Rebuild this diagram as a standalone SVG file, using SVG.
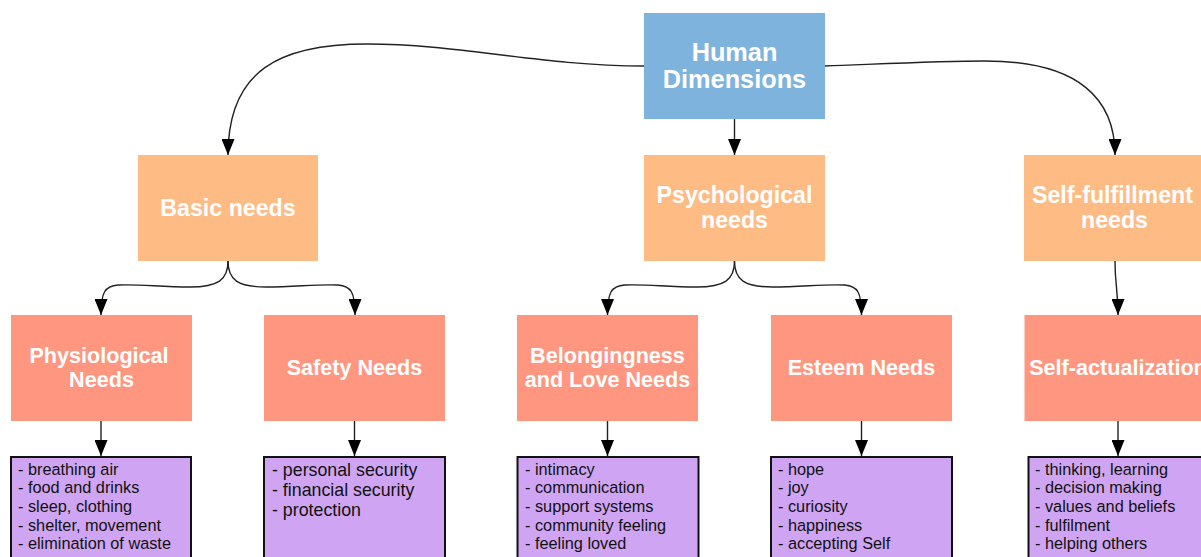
<svg xmlns="http://www.w3.org/2000/svg" width="1201" height="557" viewBox="0 0 1201 557">
<style>
.root{fill:#7eb3dd}
.l1{fill:#ffbb84}
.l2{fill:#ff9680}
.l3{fill:#cfa5f3;stroke:#111;stroke-width:2}
.t{font-family:"Liberation Sans",Arial,sans-serif;font-weight:bold;fill:#fff;text-anchor:middle}
.t0{font-size:25.3px}
.t1{font-size:23.2px}
.t2{font-size:21.6px}
.li{font-family:"Liberation Sans",Arial,sans-serif;font-size:16.3px;fill:#111}
.lb{font-size:17.8px}
.c{fill:none;stroke:#222;stroke-width:1.4;marker-end:url(#arr)}
</style>
<defs>
<marker id="arr" markerUnits="userSpaceOnUse" viewBox="0 0 16 13" markerWidth="16" markerHeight="13" refX="16" refY="6.5" orient="auto">
<path d="M0,0 L16,6.5 L0,13 Z" fill="#000"/>
</marker>
</defs>
<g id="connectors">
<path class="c" d="M644,66 C540,66 460,44 367,44 C280,44 228,70 228,155"/>
<path class="c" d="M734.5,119 L734.5,155"/>
<path class="c" d="M825,66 C880,64 940,61 985,61 C1080,61 1115,100 1115,155"/>
<path class="c" d="M228,261 C228,280 218,287 190,287 C160,287 140,284 118,285 C105,286 101,292 101,315"/>
<path class="c" d="M228,261 C228,280 238,287 266,287 C296,287 316,284 338,285 C351,286 355,292 355,315"/>
<path class="c" d="M734.5,261 C734.5,280 724.5,287 696.5,287 C666.5,287 646.5,284 624.5,285 C611.5,286 607.5,292 607.5,315"/>
<path class="c" d="M734.5,261 C734.5,280 744.5,287 772.5,287 C802.5,287 822.5,284 844.5,285 C857.5,286 861.5,292 861.5,315"/>
<path class="c" d="M1115,261 C1115,285 1118,290 1118,315"/>
<path class="c" d="M101,421 L101,456"/>
<path class="c" d="M354.5,421 L354.5,456"/>
<path class="c" d="M607.5,421 L607.5,456"/>
<path class="c" d="M861.5,421 L861.5,456"/>
<path class="c" d="M1118,421 L1118,456"/>
</g>
<g id="root"><rect class="root" x="644" y="13" width="181" height="106"/><text class="t t0" x="734.5" y="61">Human</text><text class="t t0" x="734.5" y="88">Dimensions</text></g>
<g id="basic"><rect class="l1" x="138" y="155" width="180" height="106"/><text class="t t1" x="228" y="216">Basic needs</text></g>
<g id="psych"><rect class="l1" x="644" y="155" width="181" height="106"/><text class="t t1" x="734.5" y="203">Psychological</text><text class="t t1" x="734.5" y="228">needs</text></g>
<g id="selff"><rect class="l1" x="1024" y="155" width="181" height="106"/><text class="t t1" x="1112.5" y="203">Self-fulfillment</text><text class="t t1" x="1114.5" y="228">needs</text></g>
<g id="phys"><rect class="l2" x="11" y="315" width="181" height="106"/><text class="t t2" x="99" y="363">Physiological</text><text class="t t2" x="101.5" y="386.5">Needs</text></g>
<g id="safety"><rect class="l2" x="264" y="315" width="181" height="106"/><text class="t t2" x="354.5" y="375">Safety Needs</text></g>
<g id="belong"><rect class="l2" x="517" y="315" width="181" height="106"/><text class="t t2" x="607.5" y="363">Belongingness</text><text class="t t2" x="607.5" y="386.5">and Love Needs</text></g>
<g id="esteem"><rect class="l2" x="771" y="315" width="181" height="106"/><text class="t t2" x="861.5" y="375">Esteem Needs</text></g>
<g id="selfact"><rect class="l2" x="1024.5" y="315" width="181" height="106"/><text class="t t2" x="1118" y="375">Self-actualization</text></g>
<g id="list-phys"><rect class="l3" x="11" y="457" width="180" height="120"/>
<text class="li" x="18" y="474.5">- breathing air</text><text class="li" x="18" y="493.2">- food and drinks</text><text class="li" x="18" y="511.9">- sleep, clothing</text><text class="li" x="18" y="530.6">- shelter, movement</text><text class="li" x="18" y="549.3">- elimination of waste</text></g>
<g id="list-safety"><rect class="l3" x="264" y="457" width="181" height="120"/>
<text class="li lb" x="272" y="475.5">- personal security</text><text class="li lb" x="272" y="495.8">- financial security</text><text class="li lb" x="272" y="516">- protection</text></g>
<g id="list-belong"><rect class="l3" x="517.5" y="457" width="181" height="120"/>
<text class="li" x="525" y="474.5">- intimacy</text><text class="li" x="525" y="493.2">- communication</text><text class="li" x="525" y="511.9">- support systems</text><text class="li" x="525" y="530.6">- community feeling</text><text class="li" x="525" y="549.3">- feeling loved</text></g>
<g id="list-esteem"><rect class="l3" x="771" y="457" width="181" height="120"/>
<text class="li" x="778" y="474.5">- hope</text><text class="li" x="778" y="493.2">- joy</text><text class="li" x="778" y="511.9">- curiosity</text><text class="li" x="778" y="530.6">- happiness</text><text class="li" x="778" y="549.3">- accepting Self</text></g>
<g id="list-selfact"><rect class="l3" x="1028.5" y="457" width="181" height="120"/>
<text class="li" x="1035" y="474.5">- thinking, learning</text><text class="li" x="1035" y="493.2">- decision making</text><text class="li" x="1035" y="511.9">- values and beliefs</text><text class="li" x="1035" y="530.6">- fulfilment</text><text class="li" x="1035" y="549.3">- helping others</text></g>
</svg>
